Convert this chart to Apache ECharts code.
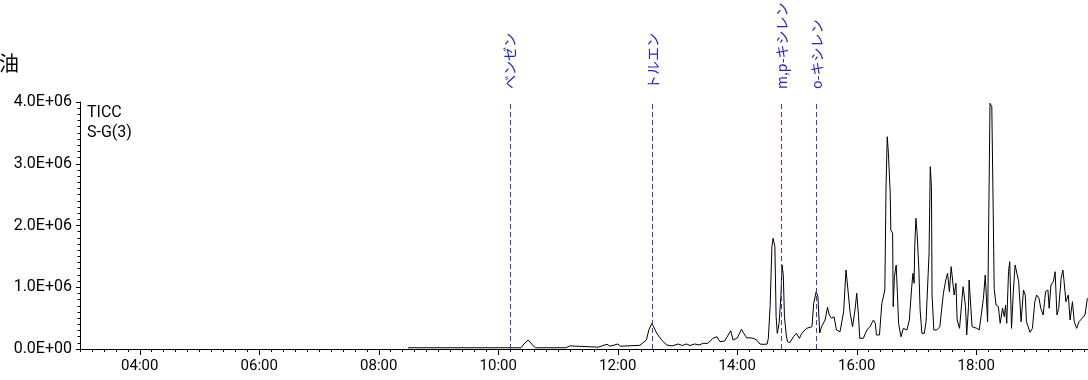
<!DOCTYPE html>
<html>
<head>
<meta charset="utf-8">
<script src="https://cdn.jsdelivr.net/npm/echarts@6/dist/echarts.min.js"></script>
<style>
html, body { margin: 0; padding: 0; background: #fff; }
#chart { width: 1088px; height: 380px; }
</style>
</head>
<body>
<div id="chart"></div>
<script>
// retention time (min) and TIC intensity
const times = [
  8.49, 10.38, 10.43, 10.50, 10.56, 10.62, 11.13, 11.15, 11.20, 11.22,
  11.67, 11.82, 11.87, 12.00, 12.05, 12.37, 12.48, 12.52, 12.57, 12.61,
  12.65, 12.71, 12.76, 12.82, 12.91, 13.01, 13.08, 13.15, 13.21, 13.29,
  13.36, 13.43, 13.51, 13.59, 13.66, 13.71, 13.79, 13.89, 13.93, 14.00,
  14.07, 14.11, 14.16, 14.23, 14.28, 14.33, 14.38, 14.45, 14.50, 14.52,
  14.55, 14.58, 14.60, 14.63, 14.65, 14.67, 14.70, 14.73, 14.75, 14.77,
  14.79, 14.82, 14.84, 14.88, 14.94, 14.99, 15.04, 15.08, 15.16, 15.25,
  15.28, 15.32, 15.35, 15.38, 15.41, 15.47, 15.51, 15.54, 15.58, 15.62,
  15.66, 15.72, 15.78, 15.82, 15.85, 15.89, 15.93, 15.97, 16.00, 16.03,
  16.05, 16.11, 16.17, 16.22, 16.28, 16.31, 16.33, 16.38, 16.42, 16.44,
  16.47, 16.49, 16.51, 16.53, 16.56, 16.57, 16.60, 16.61, 16.63, 16.66,
  16.68, 16.70, 16.74, 16.78, 16.84, 16.88, 16.92, 16.94, 16.96, 16.97,
  16.99, 17.01, 17.04, 17.06, 17.09, 17.13, 17.16, 17.19, 17.21, 17.23,
  17.25, 17.26, 17.29, 17.34, 17.39, 17.45, 17.49, 17.52, 17.55, 17.58,
  17.60, 17.63, 17.66, 17.68, 17.72, 17.76, 17.78, 17.82, 17.84, 17.87,
  17.88, 17.91, 17.93, 17.96, 18.01, 18.05, 18.08, 18.12, 18.15, 18.17,
  18.19, 18.21, 18.23, 18.26, 18.28, 18.30, 18.33, 18.37, 18.40, 18.44,
  18.47, 18.49, 18.51, 18.54, 18.56, 18.59, 18.62, 18.65, 18.68, 18.71,
  18.75, 18.79, 18.82, 18.84, 18.90, 18.94, 18.98, 19.01, 19.05, 19.08,
  19.12, 19.16, 19.20, 19.22, 19.25, 19.29, 19.32, 19.35, 19.38, 19.42,
  19.45, 19.47, 19.50, 19.54, 19.57, 19.61, 19.64, 19.68, 19.72, 19.77,
  19.82, 19.86
]
const tic = [
  20000, 20000, 81000, 146000, 81000, 20000, 20000, 50000, 50000, 20000,
  30000, 76000, 45000, 80000, 45000, 60000, 146000, 308000, 416000, 340000,
  259000, 178000, 118000, 65000, 49000, 81000, 57000, 81000, 57000, 81000,
  65000, 92000, 92000, 173000, 199000, 118000, 130000, 296000, 146000, 178000,
  319000, 250000, 180000, 180000, 170000, 140000, 80000, 75000, 80000, 173000,
  685000, 1657000, 1793000, 1657000, 523000, 254000, 416000, 847000, 1360000, 1198000,
  523000, 227000, 118000, 102000, 199000, 254000, 173000, 254000, 335000, 361000,
  740000, 928000, 847000, 259000, 361000, 470000, 675000, 551000, 497000, 523000,
  308000, 280000, 604000, 1279000, 1252000, 578000, 361000, 632000, 902000, 523000,
  173000, 173000, 308000, 361000, 470000, 416000, 227000, 227000, 740000, 766000,
  955000, 2628000, 3438000, 3169000, 2521000, 1927000, 1874000, 685000, 1171000, 1360000,
  902000, 416000, 199000, 335000, 308000, 470000, 1009000, 1226000, 1064000, 1657000,
  2117000, 1874000, 1279000, 632000, 254000, 254000, 442000, 470000, 1550000, 2952000,
  2628000, 874000, 308000, 308000, 361000, 902000, 1117000, 1226000, 928000, 1333000,
  1360000, 874000, 1064000, 470000, 335000, 794000, 1009000, 685000, 227000, 685000,
  1117000, 1117000, 361000, 389000, 335000, 308000, 523000, 821000, 1198000, 1226000,
  442000, 2223000, 3979000, 3924000, 2494000, 983000, 713000, 685000, 416000, 659000,
  523000, 713000, 416000, 1252000, 1414000, 335000, 928000, 1360000, 1333000, 1090000,
  442000, 955000, 874000, 442000, 270000, 335000, 766000, 874000, 821000, 659000,
  551000, 928000, 955000, 659000, 1036000, 1090000, 1252000, 551000, 659000, 1145000,
  1279000, 1090000, 766000, 874000, 470000, 766000, 442000, 335000, 442000, 497000,
  551000, 821000
]

// identified compounds
const markerNames = ['ベンゼン', 'トルエン', 'm,p-キシレン', 'o-キシレン']
const markerTimes = [10.197, 12.585, 14.744, 15.33]

const labelMinutes = [4, 6, 8, 10, 12, 14, 16, 18]
const xMin = 3
const xMax = 19.87

const chart = echarts.init(document.getElementById('chart'))
chart.setOption({
  animation: false,
  title: [
    {
      text: '油',
      left: -1,
      top: 53,
      padding: 0,
      textStyle: { fontFamily: 'Noto Sans CJK JP', fontSize: 20, fontWeight: 'normal', color: '#000' },
    },
    {
      text: 'TICC\nS-G(3)',
      left: 87,
      top: 103,
      padding: 0,
      textStyle: { fontFamily: 'Roboto', fontSize: 16, lineHeight: 20, fontWeight: 'normal', color: '#000' },
    },
  ],
  grid: { left: 80, right: 0, top: 102, bottom: 31 },
  xAxis: [
    {
      type: 'value',
      position: 'bottom',
      min: xMin,
      max: xMax,
      interval: 0.2,
      axisLine: { show: true, lineStyle: { color: '#000', width: 1 } },
      axisTick: { show: true, length: 3, lineStyle: { color: '#000' } },
      axisLabel: {
        show: true,
        customValues: labelMinutes,
        margin: 10,
        fontFamily: 'Roboto',
        fontSize: 15,
        color: '#000',
        formatter: v => String(Math.round(v)).padStart(2, '0') + ':00',
      },
      splitLine: { show: false },
    },
    {
      // longer ticks at the labelled minutes
      type: 'value',
      position: 'bottom',
      min: xMin,
      max: xMax,
      interval: 1,
      axisLine: { show: false },
      axisTick: { show: true, customValues: labelMinutes, length: 6, lineStyle: { color: '#000' } },
      axisLabel: { show: false },
      splitLine: { show: false },
    },
  ],
  yAxis: {
    type: 'value',
    min: 0,
    max: 4e6,
    interval: 1e6,
    axisLine: { show: true, lineStyle: { color: '#000', width: 1 } },
    axisTick: { show: true, length: 4, lineStyle: { color: '#000' } },
    minorTick: { show: true, splitNumber: 10, length: 2.5, lineStyle: { color: '#000' } },
    splitLine: { show: false },
    axisLabel: {
      margin: 8,
      fontFamily: 'Roboto',
      fontSize: 16,
      color: '#000',
      formatter: v => v === 0 ? '0.0E+00' : (v / 1e6).toFixed(1) + 'E+06',
    },
  },
  series: [{
    type: 'line',
    xAxisIndex: 0,
    data: tic.map((v, i) => [times[i], v]),
    showSymbol: false,
    symbol: 'none',
    silent: true,
    lineStyle: { color: '#000', width: 1 },
    markLine: {
      silent: true,
      symbol: ['none', 'none'],
      lineStyle: { color: '#3b3bd4', type: [5, 3], width: 1 },
      label: {
        show: true,
        position: 'end',
        rotate: 90,
        align: 'left',
        verticalAlign: 'middle',
        distance: 13,
        color: '#2626c4',
        fontFamily: 'Noto Sans CJK JP',
        fontSize: 14,
        formatter: p => p.name,
      },
      data: markerNames.map((n, i) => [
        { name: n, xAxis: markerTimes[i], yAxis: 0 },
        { xAxis: markerTimes[i], yAxis: 4e6 },
      ]),
    },
  }],
})
</script>
</body>
</html>
